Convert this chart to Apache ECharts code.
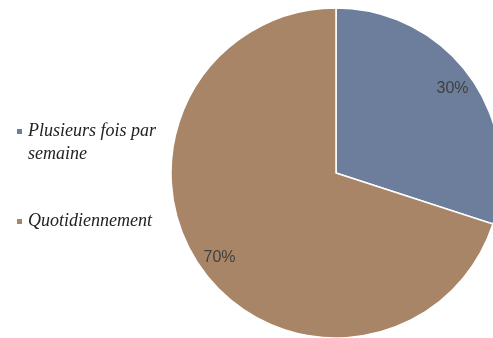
<!DOCTYPE html>
<html>
<head>
<meta charset="utf-8">
<script src="https://cdn.jsdelivr.net/npm/echarts@6/dist/echarts.min.js"></script>
<style>html,body{margin:0;padding:0;background:#fff}#c{width:493px;height:338px}</style>
</head>
<body>
<div id="c"></div>
<script>
var categories = ['Plusieurs fois par\nsemaine', 'Quotidiennement'];
var values = [30, 70];
var colors = ['#6c7e9b', '#a98568'];

var chart = echarts.init(document.getElementById('c'), null, {renderer: 'canvas'});
var pieData = categories.map(function (n, i) { return {name: n, value: values[i], itemStyle: {color: colors[i]}}; });
var labelData = categories.map(function (n, i) { return {name: n, value: values[i]}; });

chart.setOption({
  animation: false,
  legend: {
    orient: 'vertical',
    left: 15,
    top: 97,
    padding: 0,
    itemWidth: 7,
    itemHeight: 7,
    itemGap: 44,
    icon: 'rect',
    selectedMode: false,
    data: categories,
    // multi-line names: keep the marker level with the first line
    formatter: function (name) { return name.indexOf('\n') >= 0 ? ' \n' + name : name; },
    textStyle: {fontFamily: 'Liberation Serif', fontStyle: 'italic', fontSize: 18, color: '#222', lineHeight: 23}
  },
  series: [
    {
      type: 'pie',
      center: [336, 173],
      radius: [0, 165],
      startAngle: 90,
      clockwise: true,
      silent: true,
      label: {show: false},
      labelLine: {show: false},
      itemStyle: {borderColor: '#fff', borderWidth: 1.5},
      data: pieData
    },
    {
      type: 'pie',
      center: [336, 173],
      radius: [117, 165],
      startAngle: 90,
      clockwise: true,
      silent: true,
      itemStyle: {color: 'rgba(0,0,0,0)'},
      label: {show: true, position: 'inside', formatter: '{d}%', fontFamily: 'Liberation Sans', fontSize: 16, color: '#404040'},
      labelLine: {show: false},
      data: labelData
    }
  ]
});
</script>
</body>
</html>
